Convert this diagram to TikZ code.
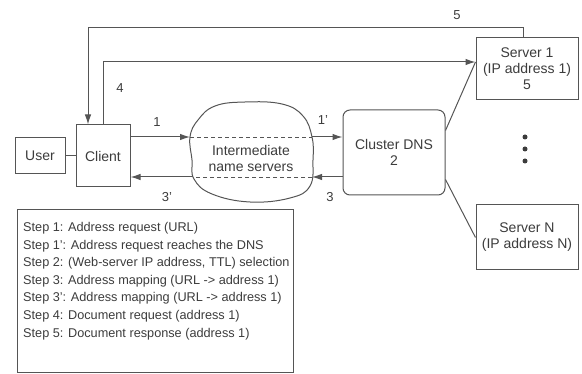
\documentclass[tikz,border=0pt]{standalone}
\usepackage{fontspec}
\setmainfont{Liberation Sans}
\definecolor{dgLine}{RGB}{85, 85, 85}
\definecolor{dgText}{RGB}{60, 60, 60}
\usetikzlibrary{arrows.meta, calc}
\tikzset{
  plainbox/.style={rectangle, draw=dgLine, line width=1pt, fill=white, align=center, text=dgText, font=\fontsize{14}{16}\selectfont, inner sep=0pt},
  roundbox/.style={plainbox, rounded corners=7pt},
  myarrow/.style={-{Latex[length=10pt, width=6.5pt]}, line width=1pt, dgLine},
  plainline/.style={line width=1pt, dgLine},
  dashline/.style={dash pattern=on 4pt off 3pt, line width=0.9pt, dgLine},
  numlabel/.style={text=dgText, font=\fontsize{13}{15}\selectfont, inner sep=0pt},
  steptext/.style={align=left, text=dgText, font=\fontsize{12.7}{17.6}\selectfont, inner sep=0pt},
}

\begin{document}
\begin{tikzpicture}[x=1pt, y=-1pt]
  \useasboundingbox (0,0) rectangle (582,374);

  % Boxes
  \node[plainbox, minimum width=50pt, minimum height=36pt] (user) at (40,156) {User};
  \node[plainbox, minimum width=54pt, minimum height=62pt] (client) at (103,156) {Client};
  \node[roundbox, minimum width=102pt, minimum height=85pt] (dns) at (394,152.5) {Cluster DNS\\2};
  \node[plainbox, minimum width=102pt, minimum height=62pt] (srv1) at (527,69) {Server 1\\(IP address 1)\\5};
  \node[plainbox, minimum width=102pt, minimum height=65pt] (srvN) at (527,237.5) {Server N\\(IP address N)};

  % Cloud of name servers
  \draw[plainline] plot[smooth cycle, tension=0.7] coordinates {(190,137) (192,160) (194,179) (212,194) (250,202) (290,198) (310,186) (313,160) (312,137) (303,116) (282,104) (245,102) (215,106) (198,120)};
  \node[plainbox, draw=none, fill=none] (inter) at (251,158) {Intermediate\\name servers};
  \coordinate (cloudNW) at (190,137);
  \coordinate (cloudNE) at (312,137);
  \coordinate (cloudSW) at (193,177);
  \coordinate (cloudSE) at (312,177);

  % Dots between the servers
  \foreach \y in {137,149,161}
    \fill[dgText] (525,\y) circle (2.5pt);

  % Arrows
  \draw[plainline] (user) -- (client);
  \draw[myarrow] (client.east |- cloudNW) -- (cloudNW);
  \draw[dashline] (cloudNW) -- (cloudNE);
  \draw[myarrow] (cloudNE) -- (dns.west |- cloudNE);
  \draw[myarrow] (dns.west |- cloudSE) -- (cloudSE);
  \draw[dashline] (cloudSE) -- (cloudSW);
  \draw[myarrow] (cloudSW) -- (client.east |- cloudSW);
  \draw[plainline] ([yshift=22pt]dns.east) -- ([yshift=7pt]srv1.west);
  \draw[plainline] ([yshift=-27pt]dns.east) -- (srvN.west);
  \draw[myarrow] (client.north) |- ([yshift=7pt]srv1.west);
  \draw[myarrow] ([xshift=-4pt]srv1.north) -- ++(0,-10) -| ([xshift=-15pt]client.north);

  % Step numbers
  \node[numlabel] (n1) at (157,122) {1};
  \node[numlabel] (n1p) at (323,120) {1'};
  \node[numlabel] (n3) at (330,197) {3};
  \node[numlabel] (n3p) at (167,197) {3'};
  \node[numlabel] (n4) at (120,88) {4};
  \node[numlabel] (n5) at (457,15) {5};

  % Legend
  \node[draw=dgLine, line width=1pt, minimum width=276pt, minimum height=163pt, anchor=north west, inner sep=0pt] (legend) at (17,209) {};
  \node[steptext, anchor=north west] (steps) at (23,222) {Step 1: Address request (URL)\\Step 1': Address request reaches the DNS\\Step 2: (Web-server IP address, TTL) selection\\Step 3: Address mapping (URL -> address 1)\\Step 3': Address mapping (URL -> address 1)\\Step 4: Document request (address 1)\\Step 5: Document response (address 1)};
\end{tikzpicture}
\end{document}
